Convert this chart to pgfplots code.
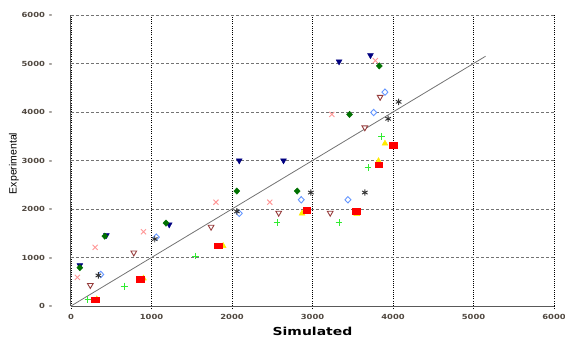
\documentclass[border=0pt]{standalone}
\usepackage{fontspec}
\usepackage{pgfplots}
\pgfplotsset{compat=1.18}
\setmainfont{Liberation Sans}
\newfontfamily\tickfont[FakeStretch=1.2]{DejaVu Sans Bold}
\newfontfamily\xlabfont[FakeStretch=1.27]{DejaVu Sans Bold}
\definecolor{ticktxt}{RGB}{80,72,64}
\definecolor{cnavy}{RGB}{0,0,128}
\definecolor{cgreen}{RGB}{0,112,0}
\definecolor{cpink}{RGB}{255,150,150}
\definecolor{cbrown}{RGB}{150,60,60}
\definecolor{cblue}{RGB}{100,150,255}
\definecolor{cgrey}{RGB}{50,50,50}
\definecolor{clime}{RGB}{50,235,50}
\definecolor{cyellow}{RGB}{255,235,0}
\definecolor{cred}{RGB}{255,0,0}
\begin{document}
\begin{tikzpicture}
\useasboundingbox (-71pt,-32pt) rectangle (494pt,306pt);
\begin{axis}[
  at={(0,0)}, anchor=south west,
  scale only axis, width=483pt, height=291pt,
  xmin=0, xmax=6000, ymin=0, ymax=6000,
  xtick={0,1000,...,6000}, ytick={0,1000,...,6000},
  axis lines=left, axis line style={-, draw=black!65, line width=1pt},
  /pgf/number format/assume math mode=true,
  /pgf/number format/1000 sep={},
  xmajorgrids, ymajorgrids,
  x grid style={black, line width=0.7pt, dash pattern=on 1pt off 1.2pt},
  y grid style={black!55, line width=0.8pt, dash pattern=on 3pt off 2pt},
  tick align=outside,
  x tick style={black, line width=0.7pt, dash pattern=on 1pt off 1.2pt},
  major tick length=3pt,
  ytick style={draw=none},
  xticklabel style={font=\tickfont\fontsize{7}{8}\selectfont, text=ticktxt, anchor=base, yshift=-10.5pt},
  yticklabel={\pgfmathprintnumber{\tick}\hspace{4pt}-},
  yticklabel style={font=\tickfont\fontsize{7}{8}\selectfont, text=ticktxt, anchor=east, xshift=-12pt},
  xlabel={\xlabfont\fontsize{11}{12}\selectfont Simulated},
  xlabel style={at={(axis description cs:0.5,0)}, anchor=base, yshift=-29.7pt},
  ylabel={\fontsize{10.5}{12}\selectfont Experimental},
  ylabel style={at={(axis description cs:-0.118,0.49)}, anchor=center},
  clip=false,
]
\addplot[draw=black!55, line width=0.8pt] coordinates {(0,0) (5150,5150)};
% navy filled down-triangles
\addplot[only marks, mark=triangle*, mark size=3.4pt, mark options={rotate=180, fill=cnavy, draw=cnavy}] coordinates {
(110,840) (440,1460) (1220,1680) (2090,3000) (2640,3000) (3330,5040) (3720,5170)};
% dark green diamonds
\addplot[only marks, mark=diamond*, mark size=3.2pt, mark options={xscale=1.25, fill=cgreen, draw=cgreen}] coordinates {
(110,790) (420,1440) (1180,1710) (2060,2370) (2810,2370) (3460,3950) (3830,4950)};
% pink x
\addplot[only marks, mark=x, mark size=3.6pt, mark options={draw=cpink, line width=0.9pt}] coordinates {
(80,590) (300,1210) (900,1530) (1800,2140) (2470,2140) (3240,3950) (3780,5060)};
% brown open down-triangles
\addplot[only marks, mark=triangle*, mark size=3.3pt, mark options={rotate=180, fill=white, draw=cbrown, line width=0.9pt}] coordinates {
(240,430) (780,1100) (1740,1630) (2580,1920) (3220,1920) (3650,3680) (3840,4310)};
% light blue open diamonds
\addplot[only marks, mark=diamond*, mark size=3.2pt, mark options={xscale=1.25, fill=white, draw=cblue, line width=0.9pt}] coordinates {
(370,650) (1060,1420) (2090,1910) (2860,2190) (3440,2190) (3760,3990) (3900,4410)};
% grey asterisks
\addplot[only marks, mark=asterisk, mark size=3.2pt, mark options={draw=cgrey, line width=0.9pt}] coordinates {
(340,630) (1040,1380) (2060,1950) (2980,2340) (3650,2340) (3940,3860) (4070,4210)};
% lime plus
\addplot[only marks, mark=+, mark size=3.4pt, mark options={draw=clime, line width=1pt}] coordinates {
(210,130) (660,410) (1550,1030) (2560,1720) (3330,1720) (3690,2850) (3860,3500)};
% yellow up-triangles
\addplot[only marks, mark=triangle*, mark size=3.4pt, mark options={fill=cyellow, draw=cyellow}] coordinates {
(320,140) (900,570) (1890,1240) (2870,1910) (3550,1900) (3820,2990) (3900,3350)};
% red squares
\addplot[only marks, mark=square*, mark size=2.8pt, mark options={xscale=1.35, fill=cred, draw=cred}] coordinates {
(300,130) (860,550) (1830,1240) (2930,1970) (3540,1950) (3820,2910) (4000,3320)};
\end{axis}
\end{tikzpicture}
\end{document}
